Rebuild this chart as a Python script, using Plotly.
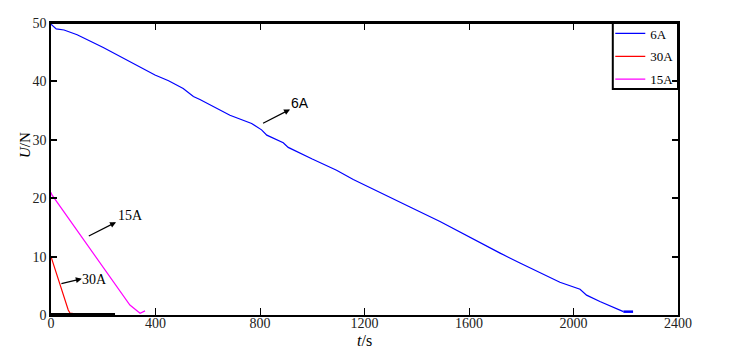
import plotly.graph_objects as go

# ---- data ----
t_6A = [0, 20, 50, 100, 200, 300, 398, 450, 506, 545, 570, 685, 768, 806, 826, 889, 908,
        1000, 1093, 1157, 1202, 1247, 1298, 1374, 1489, 1578, 1655, 1719, 1795, 1884,
        1948, 2025, 2050, 2101, 2152, 2191]
U_6A = [49.8, 49.0, 48.8, 48.0, 45.8, 43.4, 41.1, 40.1, 38.8, 37.4, 36.9, 34.2, 32.8, 31.7,
        30.8, 29.5, 28.7, 26.7, 24.8, 23.2, 22.2, 21.2, 20.1, 18.5, 16.0, 13.9, 12.0, 10.6,
        8.9, 7.0, 5.6, 4.4, 3.4, 2.3, 1.25, 0.57]
t_6A_end = [2191, 2228]
U_6A_end = [0.57, 0.57]

t_30A = [0, 66, 73, 83]
U_30A = [10.0, 0.85, 0.3, 0.3]

t_15A = [0, 3, 302, 320, 341, 360]
U_15A = [21.0, 20.6, 1.7, 1.0, 0.3, 0.7]

t_base = [0, 245]
U_base = [0, 0]

x_ticks = [0, 400, 800, 1200, 1600, 2000, 2400]
y_ticks = [0, 10, 20, 30, 40, 50]

# annotation arrows (tail -> head) and label positions, in data units
labels = ["6A", "15A", "30A"]
arrow_tail_t = [806, 139, 34]
arrow_tail_U = [32.7, 13.4, 5.3]
arrow_head_t = [915, 249, 118]
arrow_head_U = [35.2, 15.9, 6.2]
label_t = [955, 306, 165]
label_U = [36.3, 17.1, 6.0]
label_fonts = ["Liberation Sans", "Liberation Serif", "Liberation Serif"]

SERIF = "Liberation Serif"

fig = go.Figure()
fig.add_trace(go.Scatter(x=t_6A, y=U_6A, mode="lines", name="6A",
                         line=dict(color="#0000ff", width=1.2), legendgroup="a"))
fig.add_trace(go.Scatter(x=t_30A, y=U_30A, mode="lines", name="30A",
                         line=dict(color="#ff0000", width=1.2), legendgroup="b"))
fig.add_trace(go.Scatter(x=t_15A, y=U_15A, mode="lines", name="15A",
                         line=dict(color="#ff00ff", width=1.2), legendgroup="c"))
fig.add_trace(go.Scatter(x=t_6A_end, y=U_6A_end, mode="lines", showlegend=False,
                         line=dict(color="#0000ff", width=2.5), hoverinfo="skip"))
fig.add_trace(go.Scatter(x=t_base, y=U_base, mode="lines", showlegend=False,
                         line=dict(color="black", width=4), hoverinfo="skip"))

annotations = []
for i, lab in enumerate(labels):
    annotations.append(dict(x=arrow_head_t[i], y=arrow_head_U[i], ax=arrow_tail_t[i],
                            ay=arrow_tail_U[i], axref="x", ayref="y", xref="x", yref="y",
                            text="", showarrow=True, arrowhead=2, arrowsize=1,
                            arrowwidth=1.2, arrowcolor="black"))
    annotations.append(dict(x=label_t[i], y=label_U[i], xref="x", yref="y", text=lab,
                            showarrow=False, xanchor="center", yanchor="middle",
                            font=dict(family=label_fonts[i], size=14, color="black")))
annotations.append(dict(x=-0.0415, y=0.582, xref="paper", yref="paper",
                        xanchor="center", yanchor="middle",
                        text="<i>U</i>/N", textangle=-90, showarrow=False,
                        font=dict(family=SERIF, size=15, color="black")))
annotations.append(dict(x=0.5, y=-0.089, xref="paper", yref="paper",
                        xanchor="center", yanchor="middle",
                        text="<i>t</i>/s", showarrow=False,
                        font=dict(family=SERIF, size=16, color="black")))

# legend frame (drawn as a layout rectangle so the entries can sit tighter)
shapes = [dict(type="rect", xref="paper", yref="paper", x0=0.896, x1=1.0,
               y0=0.774, y1=1.0, line=dict(color="black", width=2),
               fillcolor="rgba(0,0,0,0)", layer="above"),
          dict(type="line", xref="paper", yref="paper", x0=0, x1=1, y0=1, y1=1,
               line=dict(color="black", width=2), layer="above")]

fig.update_layout(
    width=730, height=358,
    margin=dict(l=51, r=52, t=23, b=43),
    paper_bgcolor="white", plot_bgcolor="white",
    font=dict(family=SERIF, size=14, color="black"),
    showlegend=True,
    legend=dict(x=0.892, y=1.0155, xanchor="left", yanchor="top",
                borderwidth=0, bgcolor="rgba(0,0,0,0)",
                font=dict(family=SERIF, size=13, color="black"),
                tracegroupgap=3, itemwidth=30),
    annotations=annotations,
    shapes=shapes,
    xaxis=dict(range=[0, 2400], tickvals=x_ticks, ticktext=[str(v) for v in x_ticks],
               showgrid=False, zeroline=False, showline=True, linecolor="black",
               linewidth=1.5, mirror="ticks", ticks="inside", ticklen=7, tickwidth=1,
               tickcolor="black", ticklabelstandoff=-6,
               tickfont=dict(family=SERIF, size=14, color="#222")),
    yaxis=dict(range=[0, 50], tickvals=y_ticks, ticktext=[str(v) for v in y_ticks],
               showgrid=False, zeroline=False, showline=True, linecolor="black",
               linewidth=1.5, mirror="ticks", ticks="inside", ticklen=6, tickwidth=2,
               tickcolor="black", tickfont=dict(family=SERIF, size=14, color="#222")),
)

fig.write_html("out.html")
